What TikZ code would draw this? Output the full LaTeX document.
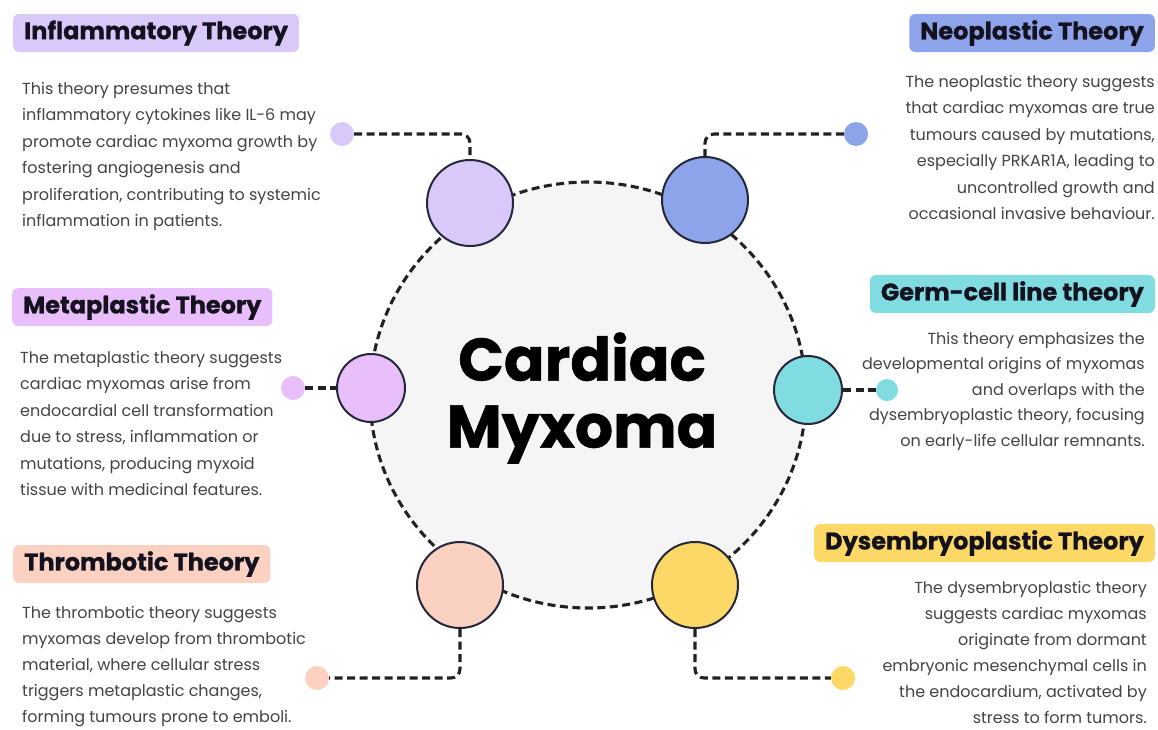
\documentclass[tikz,border=0pt]{standalone}
\usepackage{fontspec}
\setmainfont{Poppins}
\newfontfamily\titlefont{Poppins}[BoldFeatures={FakeBold=0.9}]
\usetikzlibrary{shapes.geometric}
\definecolor{cinfl}{HTML}{D9C9FB}
\definecolor{cneo}{HTML}{8DA3EA}
\definecolor{cmeta}{HTML}{E8BFFA}
\definecolor{cgerm}{HTML}{80DCE0}
\definecolor{cthr}{HTML}{FBD1C2}
\definecolor{cdys}{HTML}{FCD866}
\definecolor{corefill}{HTML}{F5F5F6}
\definecolor{outl}{HTML}{25283A}
\definecolor{dashc}{HTML}{222222}
\definecolor{titlec}{HTML}{15121F}
\definecolor{bodyc}{HTML}{444444}
\begin{document}
\begin{tikzpicture}[x=1pt,y=-1pt,
  bubble/.style={circle, draw=outl, line width=2pt, minimum size=86pt, inner sep=0pt},
  smallbubble/.style={bubble, minimum size=68pt},
  dotnode/.style={circle, minimum size=24pt, inner sep=0pt},
  dashline/.style={draw=dashc, line width=3.1pt, dash pattern=on 8pt off 4.5pt},
  conn/.style={dashline, rounded corners=9pt},
  titlebox/.style={rounded corners=6pt, minimum height=38pt, inner xsep=11pt, inner ysep=0pt, font=\titlefont\fontsize{24}{28}\selectfont\bfseries, text=titlec},
  bodytext/.style={inner sep=0pt, font=\fontsize{16}{26.5}\selectfont, text=bodyc},
]
\fill[white] (0,0) rectangle (1158,729);
\useasboundingbox (0,0) rectangle (1158,729);

% core
\node[ellipse, fill=corefill, dashline, minimum width=436pt, minimum height=426pt, inner sep=0pt] (core) at (588,395) {};
\node[font=\titlefont\fontsize{60}{67}\selectfont\bfseries, align=center, text=black] (coretext) at (582,398) {Cardiac\\Myxoma};

% bubbles
\node[bubble, fill=cinfl] (ci) at (470,203) {};
\node[bubble, fill=cneo] (cn) at (705,200) {};
\node[smallbubble, fill=cmeta] (cm) at (371,388) {};
\node[smallbubble, fill=cgerm] (cg) at (808,390) {};
\node[bubble, fill=cthr] (ct) at (460,585) {};
\node[bubble, fill=cdys] (cd) at (695,585) {};

% dots
\node[dotnode, fill=cinfl] (di) at (342,134) {};
\node[dotnode, fill=cneo] (dn) at (856,134) {};
\node[dotnode, fill=cmeta] (dm) at (293,388) {};
\node[dotnode, fill=cgerm, minimum size=22pt] (dg) at (887,390) {};
\node[dotnode, fill=cthr] (dt) at (317,678) {};
\node[dotnode, fill=cdys] (dd) at (843,678) {};

% connectors
\draw[conn] (di) -| (ci);
\draw[conn] (dn) -| (cn);
\draw[conn] (dm) -- (cm);
\draw[conn] (cg) -- (dg);
\draw[conn] (ct) |- (dt);
\draw[conn] (cd) |- (dd);

% titles
\node[titlebox, fill=cinfl, anchor=west] (ti) at (13,33) {Inflammatory Theory};
\node[titlebox, fill=cneo, anchor=east] (tn) at (1155,33) {Neoplastic Theory};
\node[titlebox, fill=cmeta, anchor=west] (tm) at (12,307) {Metaplastic Theory};
\node[titlebox, fill=cgerm, anchor=east] (tg) at (1155,294) {Germ-cell line theory};
\node[titlebox, fill=cthr, anchor=west] (tt) at (13,564) {Thrombotic Theory};
\node[titlebox, fill=cdys, anchor=east] (td) at (1155,543) {Dysembryoplastic Theory};

% bodies
\node[bodytext, align=left, anchor=north west] (bi) at (22,82) {This theory presumes that\\inflammatory cytokines like IL-6 may\\promote cardiac myxoma growth by\\fostering angiogenesis and\\proliferation, contributing to systemic\\inflammation in patients.};
\node[bodytext, align=right, anchor=north east] (bn) at (1155,75) {The neoplastic theory suggests\\that cardiac myxomas are true\\tumours caused by mutations,\\especially PRKAR1A, leading to\\uncontrolled growth and\\occasional invasive behaviour.};
\node[bodytext, align=left, anchor=north west] (bm) at (20,351) {The metaplastic theory suggests\\cardiac myxomas arise from\\endocardial cell transformation\\due to stress, inflammation or\\mutations, producing myxoid\\tissue with medicinal features.};
\node[bodytext, font=\fontsize{16}{25.5}\selectfont, align=right, anchor=north east] (bg) at (1145,332) {This theory emphasizes the\\developmental origins of myxomas\\and overlaps with the\\dysembryoplastic theory, focusing\\on early-life cellular remnants.};
\node[bodytext, font=\fontsize{16}{26}\selectfont, align=left, anchor=north west] (bt) at (22,606) {The thrombotic theory suggests\\myxomas develop from thrombotic\\material, where cellular stress\\triggers metaplastic changes,\\forming tumours prone to emboli.};
\node[bodytext, font=\fontsize{16}{26}\selectfont, align=right, anchor=north east] (bd) at (1147,581) {The dysembryoplastic theory\\suggests cardiac myxomas\\originate from dormant\\embryonic mesenchymal cells in\\the endocardium, activated by\\stress to form tumors.};
\end{tikzpicture}
\end{document}
